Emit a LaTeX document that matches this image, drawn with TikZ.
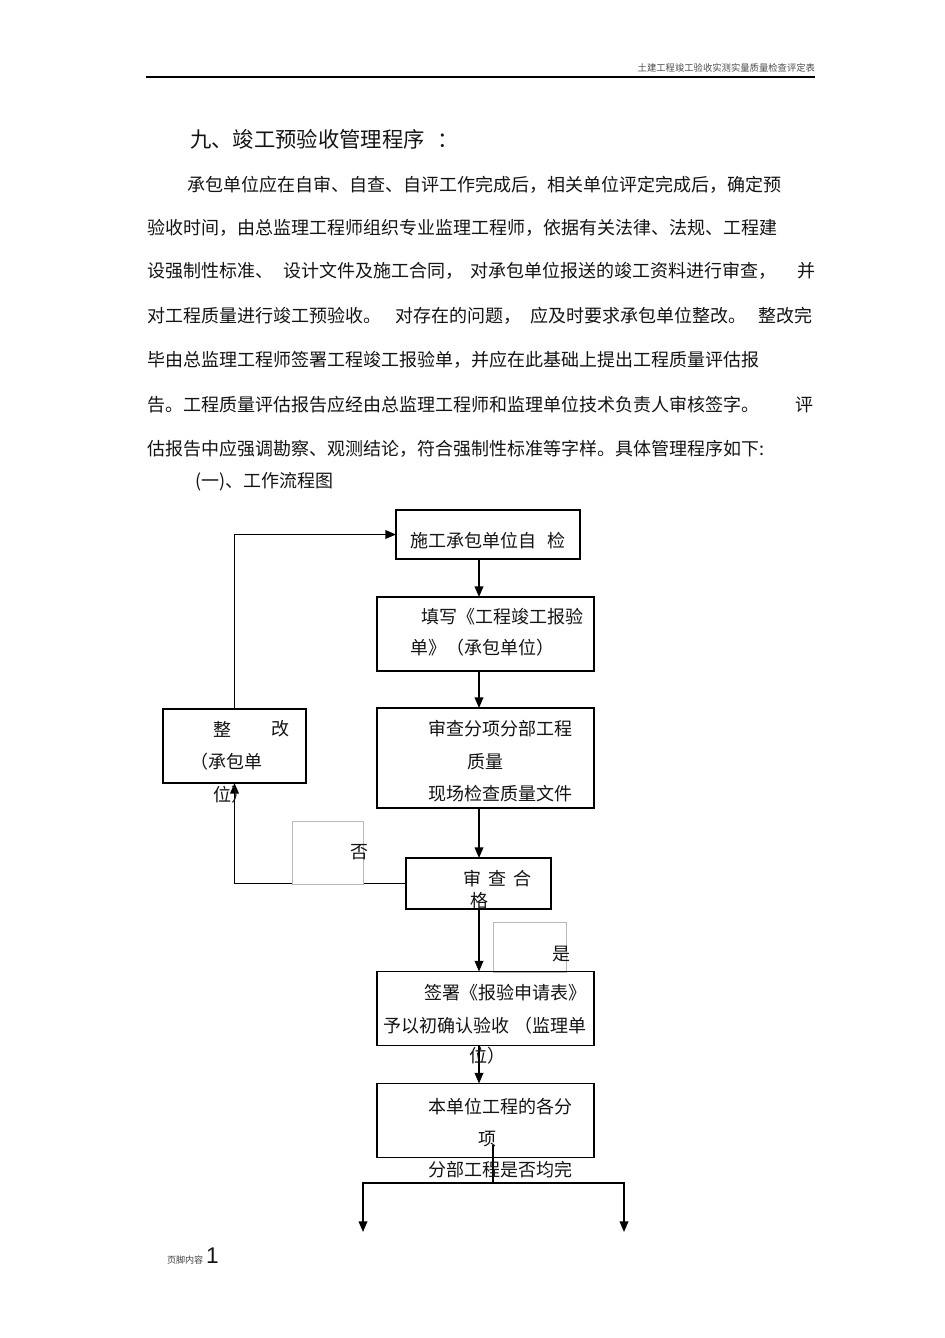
\documentclass[tikz,border=0pt]{standalone}
\usepackage{fontspec}
\setmainfont{Noto Sans CJK SC}
\newfontfamily\latinsans{Liberation Sans}
\usetikzlibrary{arrows.meta}
\begin{document}
\begin{tikzpicture}[x=0.75pt,y=-0.75pt,
  txt/.style={inner sep=0pt, outer sep=0pt, anchor=west, text=black!92, font=\fontsize{13.5pt}{15pt}\selectfont},
  ctxt/.style={txt, anchor=center},
  box/.style={draw=black, line width=1.3pt, inner sep=0pt, outer sep=0pt},
  lbl/.style={draw=black!28, line width=0.6pt, fill=white, inner sep=0pt, outer sep=0pt},
  arr/.style={line width=1.2pt, -{Triangle[length=8pt,width=6.5pt]}},
  conn/.style={line width=1.2pt}]
\useasboundingbox (0,0) rectangle (945,1338);
\fill[white] (0,0) rectangle (945,1338);

% header
\draw[line width=0.9pt] (146,77) -- (815,77);
\node[txt, anchor=east, text=black!70, font=\fontsize{7pt}{8pt}\selectfont] (hdr) at (815,68) {土建工程竣工验收实测实量质量检查评定表};

% title and body
\node[txt, font=\fontsize{16pt}{18pt}\selectfont] (title) at (190,139) {九、竣工预验收管理程序\hspace{0.6em}：};
\node[txt] (l1) at (187,185) {承包单位应在自审、自查、自评工作完成后，相关单位评定完成后，确定预};
\node[txt] (l2) at (147,228) {验收时间，由总监理工程师组织专业监理工程师，依据有关法律、法规、工程建};
\node[txt] (l3a) at (147,271) {设强制性标准、};
\node[txt] (l3b) at (283,271) {设计文件及施工合同，};
\node[txt] (l3c) at (470,271) {对承包单位报送的竣工资料进行审查，};
\node[txt] (l3d) at (797,271) {并};
\node[txt] (l4a) at (147,316) {对工程质量进行竣工预验收。};
\node[txt] (l4b) at (395,316) {对存在的问题，};
\node[txt] (l4c) at (530,316) {应及时要求承包单位整改。};
\node[txt] (l4d) at (758,316) {整改完};
\node[txt] (l5) at (147,360) {毕由总监理工程师签署工程竣工报验单，并应在此基础上提出工程质量评估报};
\node[txt] (l6a) at (147,405) {告。工程质量评估报告应经由总监理工程师和监理单位技术负责人审核签字。};
\node[txt] (l6b) at (795,405) {评};
\node[txt] (l7) at (147,449) {估报告中应强调勘察、观测结论，符合强制性标准等字样。具体管理程序如下:};
\node[txt] (l8) at (195,482) {(一)、工作流程图};

% label box behind
\node[lbl, minimum width=54.75pt, minimum height=37.5pt] (yesbox) at (529.5,947) {};

% boxes
\node[box, minimum width=138pt, minimum height=36.75pt] (b1) at (488,534.5) {};
\node[box, minimum width=162.75pt, minimum height=55.5pt] (b2) at (485.5,634) {};
\node[box, minimum width=162.75pt, minimum height=75pt] (b3) at (485.5,758) {};
\node[box, minimum width=108.75pt, minimum height=38.25pt] (b4) at (478.5,883.5) {};
\node[box, minimum width=107.25pt, minimum height=55.5pt] (b5) at (234.5,746) {};
\node[box, minimum width=162.75pt, minimum height=55.5pt] (b6) at (485.5,1008.5) {};
\node[box, minimum width=162.75pt, minimum height=55.5pt] (b7) at (485.5,1120.5) {};

\coordinate (vx) at (479,0);
\coordinate (stemtop) at (493,1145);
\coordinate (split) at (493,1183);
\coordinate (outL) at (363,1232);
\coordinate (outR) at (624,1232);

% connectors
\draw[arr] (b1.south -| vx) -- (b2.north -| vx);
\draw[arr] (b2.south -| vx) -- (b3.north -| vx);
\draw[arr] (b3.south -| vx) -- (b4.north -| vx);
\draw[arr] (b4.south -| vx) -- (b6.north -| vx);
\draw[arr] (b6.south -| vx) -- (b7.north -| vx);
\draw[arr] (b4.west) -- (b4.west -| b5.south) -- (b5.south);
\draw[arr] (b5.north) -- (b5.north |- b1.west) -- (b1.west);
\draw[conn] (stemtop) -- (split);
\draw[arr] (split) -| (outL);
\draw[arr] (split) -| (outR);

% "no" label box over the line
\node[lbl, minimum width=53.25pt, minimum height=47.6pt] (nobox) at (327.5,852.7) {};
\node[ctxt] (no) at (359,852) {否};
\node[ctxt] (yes) at (561,954) {是};

% box texts
\node[txt] (t1) at (410,541) {施工承包单位自\hspace{0.65em}检};
\node[txt] (t2a) at (412,617) {\hspace{0.55em}填写《工程竣工报验};
\node[txt] (t2b) at (410,648) {单》（承包单位）};
\node[txt] (t3a) at (428,729) {审查分项分部工程};
\node[txt] (t3b) at (467,762) {质量};
\node[txt] (t3c) at (428,794) {现场检查质量文件};
\node[txt] (t4a) at (463,879) {审\hspace{0.4em}查\hspace{0.4em}合};
\node[txt] (t4b) at (470,901) {格};
\node[txt] (t5a) at (213,729) {整};
\node[txt] (t5b) at (271,729) {改};
\node[txt] (t5c) at (190,762) {（承包单};
\node[txt] (t5d) at (213,795) {位）};
\node[txt] (t6a) at (415,993) {\hspace{0.5em}签署《报验申请表》};
\node[txt] (t6b) at (383,1026) {予以初确认验收\hspace{0.3em}（监理单};
\node[txt] (t6c) at (469,1056) {位）};
\node[txt] (t7a) at (428,1107) {本单位工程的各分};
\node[txt] (t7b) at (478,1139) {项};
\node[txt] (t7c) at (428,1170) {分部工程是否均完};

% footer
\node[txt, text=black!75, font=\fontsize{6.8pt}{8pt}\selectfont] (ft1) at (167,1260) {页脚内容};
\node[txt, font=\fontsize{17pt}{18pt}\latinsans] (ft2) at (206,1256) {1};
\end{tikzpicture}
\end{document}
